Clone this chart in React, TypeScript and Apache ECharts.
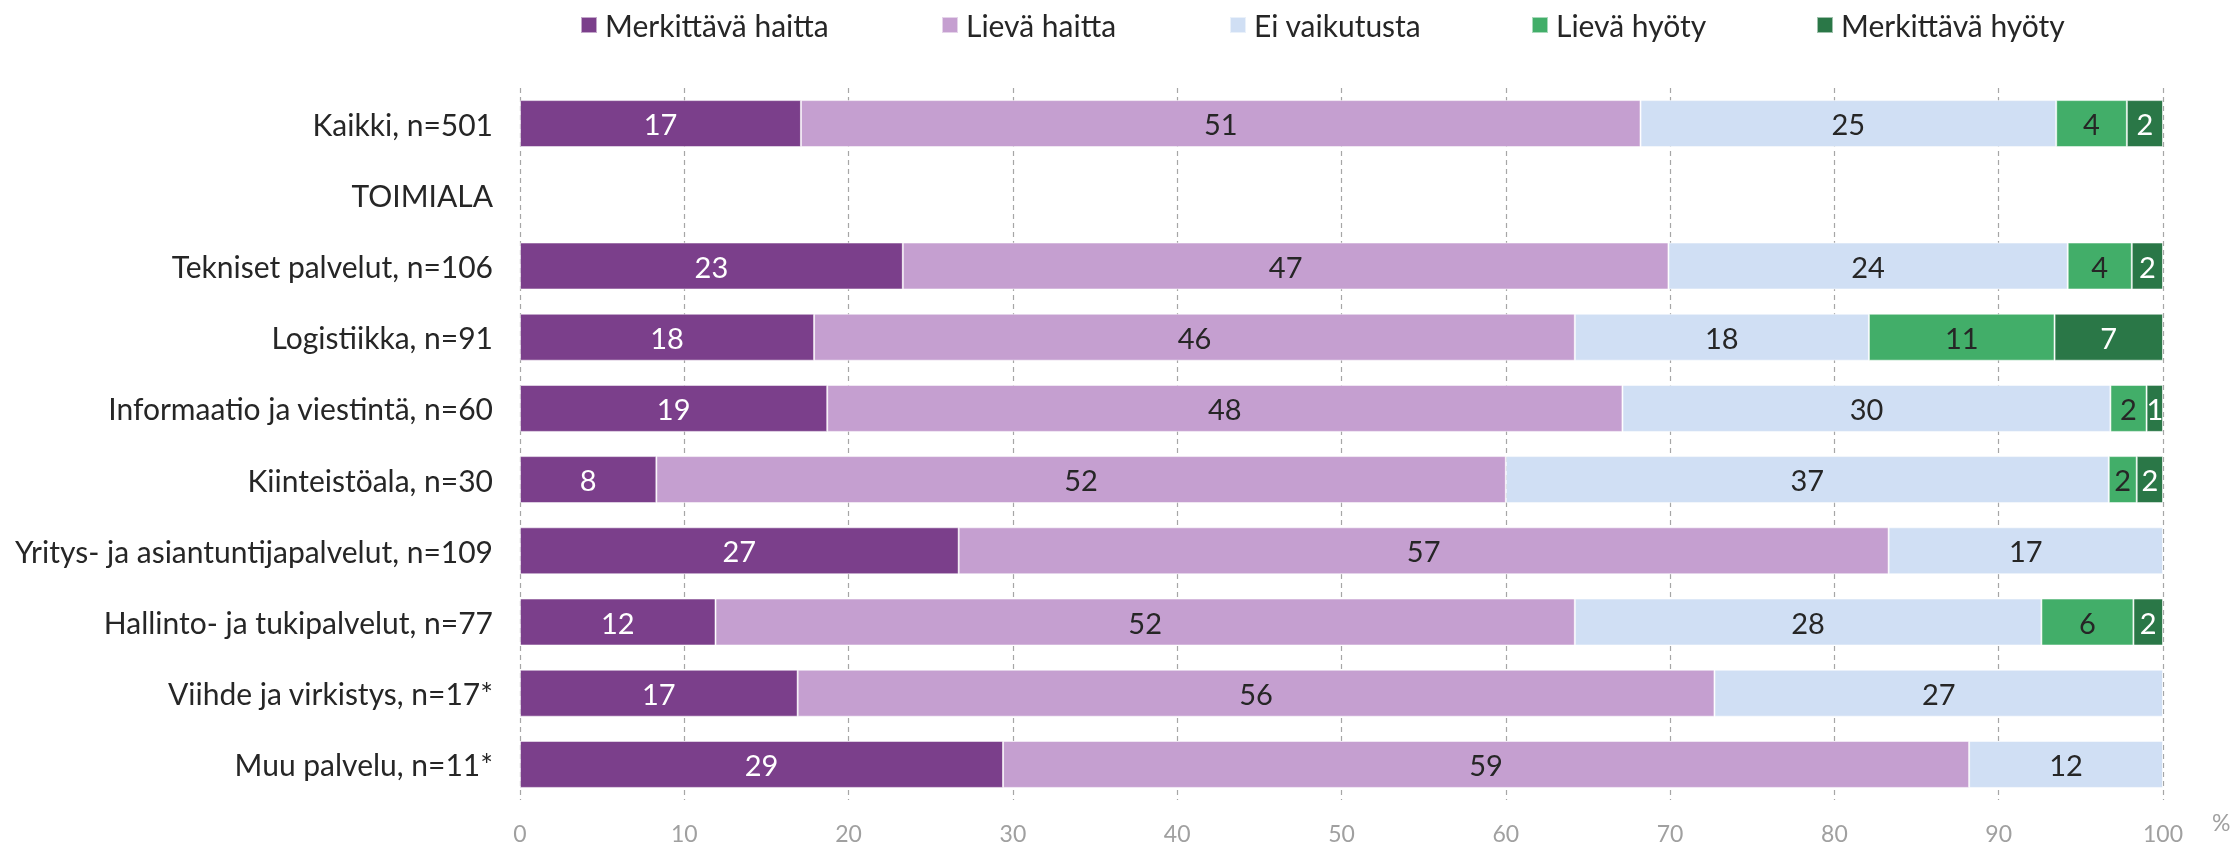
import React, { useEffect, useRef } from "react";
import * as echarts from "echarts";

const categories = [
  "Kaikki, n=501",
  "TOIMIALA",
  "Tekniset palvelut, n=106",
  "Logistiikka, n=91",
  "Informaatio ja viestintä, n=60",
  "Kiinteistöala, n=30",
  "Yritys- ja asiantuntijapalvelut, n=109",
  "Hallinto- ja tukipalvelut, n=77",
  "Viihde ja virkistys, n=17*",
  "Muu palvelu, n=11*",
];

const seriesNames = [
  "Merkittävä haitta",
  "Lievä haitta",
  "Ei vaikutusta",
  "Lievä hyöty",
  "Merkittävä hyöty",
];

const merkittavaHaitta = [17.1, null, 23.3, 17.9, 18.7, 8.3, 26.7, 11.9, 16.9, 29.4];
const lievaHaitta = [51.1, null, 46.6, 46.3, 48.4, 51.7, 56.6, 52.3, 55.8, 58.8];
const eiVaikutusta = [25.3, null, 24.3, 17.9, 29.7, 36.7, 16.7, 28.4, 27.3, 11.8];
const lievaHyoty = [4.3, null, 3.9, 11.3, 2.2, 1.7, null, 5.6, null, null];
const merkittavaHyoty = [2.2, null, 1.9, 6.6, 1.0, 1.6, null, 1.8, null, null];

const xTicks = [0, 10, 20, 30, 40, 50, 60, 70, 80, 90, 100];

const colors = ["#7B3F8B", "#C59FD0", "#D0DFF4", "#42AE69", "#2A7747"];
const labelColors = ["#ffffff", "#262626", "#262626", "#262626", "#ffffff"];
const legendLefts = [580, 941, 1229, 1531, 1816];

const FONT = "Lato";

export default function App() {
  const ref = useRef<HTMLDivElement>(null);

  useEffect(() => {
    if (!ref.current) return;
    const chart = echarts.init(ref.current, undefined, { renderer: "svg" });
    const values = [merkittavaHaitta, lievaHaitta, eiVaikutusta, lievaHyoty, merkittavaHyoty];

    const option: any = {
      animation: false,
      textStyle: { fontFamily: FONT },
      legend: seriesNames.map((n, i) => ({
        data: [n],
        left: legendLefts[i],
        top: 5,
        padding: [5, 0, 5, 0],
        itemWidth: 16,
        itemHeight: 16,
        icon: "rect",
        textStyle: { fontFamily: FONT, fontSize: 30, color: "#262626", padding: [0, 0, 0, 3] },
      })),
      grid: { left: 520, right: 76, top: 88, bottom: 45, containLabel: false },
      xAxis: {
        type: "value",
        min: 0,
        max: 100,
        interval: 10,
        axisLine: { show: false },
        axisTick: { show: false },
        axisLabel: {
          color: "#A0A0A0",
          fontSize: 23,
          fontFamily: FONT,
          margin: 21,
          formatter: (v: number) => (xTicks.includes(v) ? String(v) : ""),
        },
        splitLine: {
          show: true,
          lineStyle: { color: "#A6A6A6", type: [5, 4], width: 1.2 },
        },
      },
      yAxis: {
        type: "category",
        inverse: true,
        data: categories,
        axisLine: { show: false },
        axisTick: { show: false },
        splitLine: { show: false },
        axisLabel: { color: "#262626", fontSize: 30, fontFamily: FONT, margin: 27 },
      },
      graphic: [
        {
          type: "text",
          left: 2212,
          top: 810,
          style: { text: "%", fill: "#A0A0A0", font: `23px ${FONT}` },
        },
      ],
      series: seriesNames.map((n, i) => ({
        name: n,
        type: "bar",
        stack: "total",
        barWidth: 47,
        data: values[i],
        itemStyle: { color: colors[i], borderColor: "rgba(255,255,255,0.55)", borderWidth: 1 },
        label: {
          show: true,
          position: "inside",
          color: labelColors[i],
          fontSize: 29,
          fontFamily: FONT,
          formatter: (p: any) => (p.value == null ? "" : String(Math.round(p.value))),
        },
      })),
    };
    chart.setOption(option);
    return () => chart.dispose();
  }, []);

  return (
    <div
      ref={ref}
      style={{ position: "fixed", left: 0, top: 0, width: 2239, height: 845 }}
    />
  );
}
